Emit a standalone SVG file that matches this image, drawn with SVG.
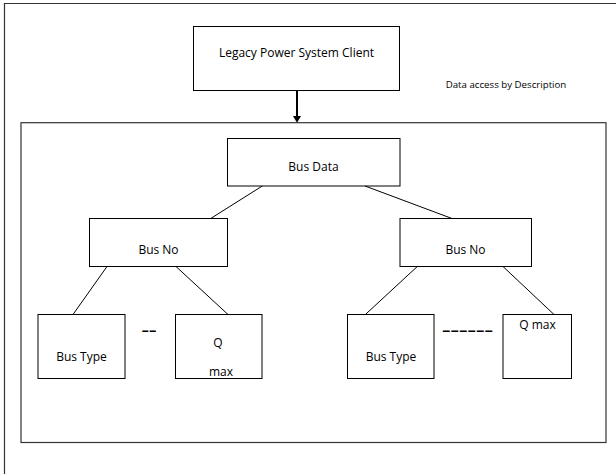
<svg xmlns="http://www.w3.org/2000/svg" width="616" height="474" viewBox="0 0 616 474">
<style>
.box{fill:#fff;stroke:#000;stroke-width:1}
.frame{fill:none;stroke:#333;stroke-width:1.2}
.t{font-family:"Open Sans","Liberation Sans",sans-serif;font-size:12px;fill:#000;text-anchor:middle}
.s{font-size:9.7px}
.c{stroke:#000;stroke-width:1;fill:none}
.d{font-weight:bold;font-size:12px}
</style>
<rect width="616" height="474" fill="#fff"/>
<g id="outer-frame">
<path class="frame" d="M4.5,474 L4.5,3.5 L616,3.5"/>
</g>
<g id="node-client">
<rect class="box" x="193.5" y="26.5" width="206" height="64"/>
<text class="t" x="296.5" y="57">Legacy Power System Client</text>
</g>
<g id="label-access">
<text class="t s" x="506" y="87.5">Data access by Description</text>
</g>
<g id="container">
<rect class="frame" x="21" y="122.7" width="585" height="319.8"/>
</g>
<g id="node-busdata">
<rect class="box" x="227.5" y="138.5" width="172.5" height="47.5"/>
<text class="t" x="313.5" y="171">Bus Data</text>
</g>
<g id="node-busno-left">
<rect class="box" x="89.5" y="218.5" width="138" height="48"/>
<text class="t" x="158.5" y="254">Bus No</text>
</g>
<g id="node-busno-right">
<rect class="box" x="400" y="218.5" width="131.5" height="48"/>
<text class="t" x="465.5" y="254">Bus No</text>
</g>
<g id="node-bustype-left">
<rect class="box" x="38" y="314.5" width="87" height="64"/>
<text class="t" x="81.5" y="360.5">Bus Type</text>
</g>
<g id="node-qmax-left">
<rect class="box" x="175.5" y="314.5" width="86.5" height="64"/>
<text class="t" x="218" y="346.5">Q</text>
<text class="t" x="221" y="376">max</text>
</g>
<g id="node-bustype-right">
<rect class="box" x="347.5" y="314.5" width="86.5" height="64"/>
<text class="t" x="391" y="360.5">Bus Type</text>
</g>
<g id="node-qmax-right">
<rect class="box" x="503" y="314.5" width="68.5" height="64"/>
<text class="t" x="537.5" y="329">Q max</text>
</g>
<g id="ellipsis">
<text class="t d" x="149" y="335" textLength="15" lengthAdjust="spacingAndGlyphs">--</text>
<text class="t d" x="467.5" y="335" textLength="51" lengthAdjust="spacingAndGlyphs">------</text>
</g>
<g id="connectors">
<line x1="297" y1="90.5" x2="297" y2="117" stroke="#000" stroke-width="2"/>
<path d="M293,116 L301,116 L297,122.7 Z" fill="#000"/>
<line class="c" x1="262.3" y1="186" x2="210.7" y2="218.5"/>
<line class="c" x1="365" y1="186" x2="452" y2="218.5"/>
<line class="c" x1="107" y1="266.5" x2="73" y2="314.5"/>
<line class="c" x1="176" y1="266.5" x2="228" y2="314.5"/>
<line class="c" x1="417.3" y1="266.5" x2="365.4" y2="314.5"/>
<line class="c" x1="503" y1="266.5" x2="554" y2="314.5"/>
</g>
</svg>
